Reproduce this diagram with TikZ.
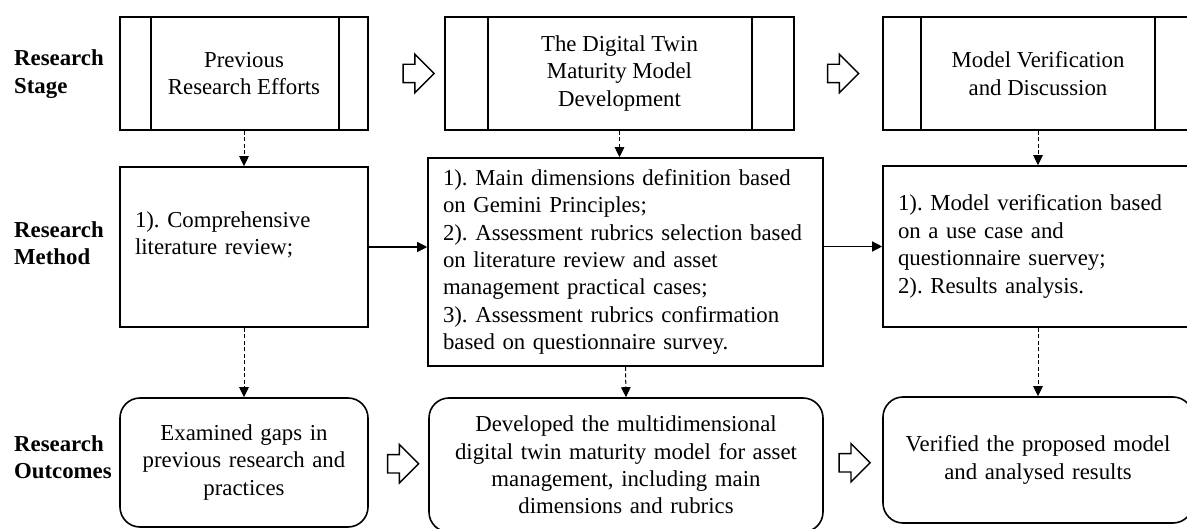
\documentclass[tikz,border=0pt]{standalone}
\usepackage{fontspec}
\setmainfont{Liberation Serif}
\usetikzlibrary{shapes.arrows,arrows.meta,calc}
\frenchspacing
\begin{document}
\begin{tikzpicture}[x=1pt,y=-1pt,
  txt/.style={font=\frenchspacing\fontsize{22.8}{27.4}\selectfont},
  box/.style={draw, line width=1.6pt, txt, inner sep=0pt},
  stagebox/.style={box, align=center},
  methodbox/.style={box, align=left, inner xsep=15pt},
  outbox/.style={box, rounded corners=20pt, align=center},
  dasharrow/.style={line width=1pt, dash pattern=on 4pt off 2.5pt, -{Triangle[length=10pt,width=9.5pt]}},
  solidarrow/.style={line width=1.2pt, -{Triangle[length=10pt,width=10pt]}},
  blockarrow/.style={draw, line width=1.4pt, single arrow, single arrow head extend=10pt, single arrow head indent=0pt, minimum height=31pt, inner xsep=0pt, inner ysep=8.5pt, fill=white},
  rowlabel/.style={font=\bfseries\fontsize{22.8}{27.4}\selectfont, align=left, anchor=west, inner sep=0pt},
  innerline/.style={line width=1.6pt}
]
\useasboundingbox (0,0) rectangle (1187,529);
\clip (0,0) rectangle (1187,529);

% row labels
\node[rowlabel] (lstage) at (14,74) {Research\\Stage};
\node[rowlabel] (lmethod) at (14,243.5) {Research\\Method};
\node[rowlabel] (lout) at (14,457.5) {Research\\Outcomes};

% stage boxes
\node[stagebox, minimum width=248pt, minimum height=113pt] (s1) at (244,73.5) {Previous\\Research Efforts};
\node[stagebox, minimum width=349pt, minimum height=113pt] (s2) at (619.5,73.5) {The Digital Twin\\Maturity Model\\Development};
\node[stagebox, minimum width=310pt, minimum height=113pt] (s3) at (1038,73.5) {Model Verification\\and Discussion};
\draw[innerline] ([xshift=32pt]s1.north west) -- ([xshift=32pt]s1.south west);
\draw[innerline] ([xshift=-30pt]s1.north east) -- ([xshift=-30pt]s1.south east);
\draw[innerline] ([xshift=44pt]s2.north west) -- ([xshift=44pt]s2.south west);
\draw[innerline] ([xshift=-43pt]s2.north east) -- ([xshift=-43pt]s2.south east);
\draw[innerline] ([xshift=39pt]s3.north west) -- ([xshift=39pt]s3.south west);
\draw[innerline] ([xshift=-39pt]s3.north east) -- ([xshift=-39pt]s3.south east);

% method boxes
\node[methodbox, text width=218pt, minimum height=160pt] (m1) at (244,247) {1). Comprehensive\\literature review;\\\mbox{}};
\node[methodbox, text width=365pt, minimum height=208pt] (m2) at (625.5,262) {1). Main dimensions definition based\\on Gemini Principles;\\2). Assessment rubrics selection based\\on literature review and asset\\management practical cases;\\3). Assessment rubrics confirmation\\based on questionnaire survey.};
\node[methodbox, text width=280pt, minimum height=161pt] (m3) at (1038,246.5) {1). Model verification based\\on a use case and\\questionnaire suervey;\\2). Results analysis.};

% outcome boxes
\node[outbox, text width=248pt, minimum height=129pt] (o1) at (244,462.5) {Examined gaps in\\previous research and\\practices};
\node[outbox, text width=394pt, minimum height=134pt] (o2) at (626,465) {Developed the multidimensional\\digital twin maturity model for asset\\management, including main\\dimensions and rubrics};
\node[outbox, text width=310pt, minimum height=126pt] (o3) at (1038,460) {Verified the proposed model\\and analysed results};

% block arrows
\node[blockarrow] (a1) at ($(s1.east)!0.6!(s2.west)$) {};
\node[blockarrow] (a2) at ($(s2.east)!0.5!(s3.west)$) {};
\node[blockarrow] (a3) at ($(o1.east)!0.5!(o2.west)$) {};
\node[blockarrow] (a4) at ($(o2.east)!0.45!(o3.west)$) {};

% dashed arrows
\draw[dasharrow] (s1.south) -- (m1.north);
\draw[dasharrow] (s2.south) -- (s2.south |- m2.north);
\draw[dasharrow] (s3.south) -- (m3.north);
\draw[dasharrow] (m1.south) -- (o1.north);
\draw[dasharrow] (m2.south) -- (o2.north);
\draw[dasharrow] (m3.south) -- (o3.north);

% solid arrows
\draw[solidarrow] (m1.east) -- (m1.east -| m2.west);
\draw[solidarrow] (m2.east |- m3.west) -- (m3.west);
\end{tikzpicture}
\end{document}
